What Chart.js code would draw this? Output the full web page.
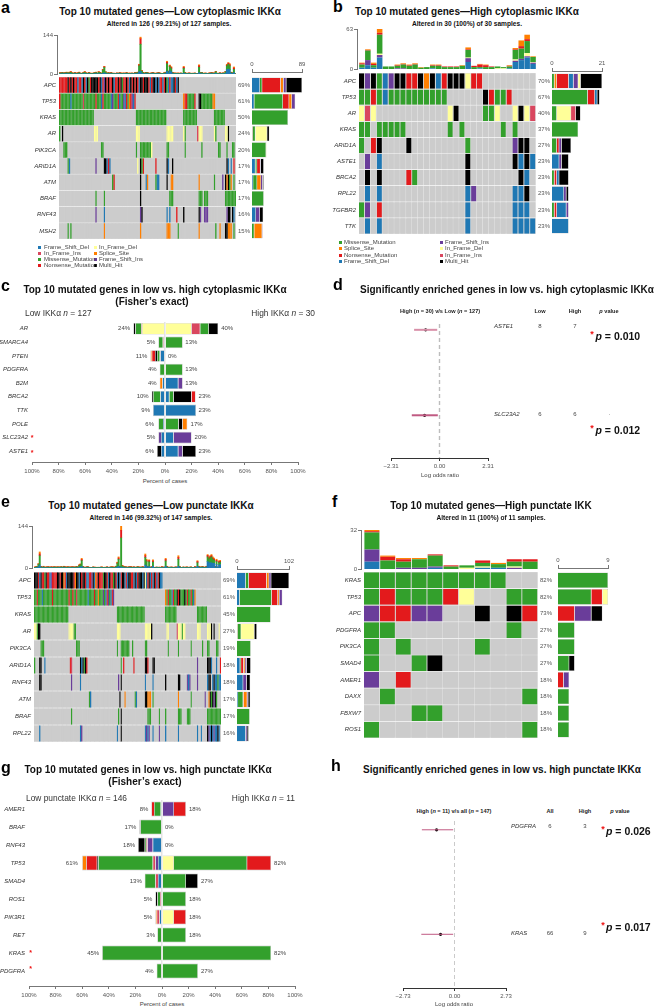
<!DOCTYPE html>
<html><head><meta charset="utf-8">
<script src="https://cdn.jsdelivr.net/npm/chart.js@4/dist/chart.umd.min.js"></script>
<style>
html,body{margin:0;padding:0;background:#fff}
#page{position:relative;width:654px;height:1008px;overflow:hidden;font-family:"Liberation Sans",Arial,sans-serif}
#page canvas{position:absolute}
.t{position:absolute;white-space:nowrap;line-height:1;z-index:5}
</style></head><body><div id="page"></div>
<script>
// ---------- classes ----------
const CLASS_NAMES = {F:"Frame_Shift_Del",I:"In_Frame_Ins",M:"Missense_Mutation",N:"Nonsense_Mutation",Y:"In_Frame_Del",S:"Splice_Site",P:"Frame_Shift_Ins",K:"Multi_Hit"};
const CLASS_COLORS = {F:"#1F78B4",I:"#D9475F",M:"#33A02C",N:"#E31A1C",Y:"#FFFF99",S:"#FF7F00",P:"#6A3D9A",K:"#000000",".":"#CCCCCC"};

// ---------- panel a ----------
const aGenes = ["APC","TP53","KRAS","AR","PIK3CA","ARID1A","ATM","BRAF","RNF43","MSH2"];
const aPct = ["69%","61%","50%","24%","20%","17%","17%","17%","16%","15%"];
const aRows = [
 "0:NNNNNNKNKNKNNFNNFKNFKMNKKKKKNKFNPKNKNNKFNNKNKMNNKNFKNKNKNFKKNKKKNFNKKFKFNNFNKMFNFFKNFK",
 "0:NM7FM8IM8NM3FNM5FPM3NFM2PFNMSNPFN 89:SNNMMMMMN 100:KKM8SS",
 "0:M25 55:M22 89:M10 111:M8",
 "0:M 2:K 25:Y3 55:Y3 77:Y5 89:YM 99:IY3 111:YM 119:YYK",
 "3:M3 30:MM 55:M 58:M8Y 77:MM 90:M 102:M 114:MM 120:M 124:MM",
 "6:MF 26:P 32:KKFNF 56:Y 58:KMN 69:N 77:KF 81:K 120:KF 123:F 125:N",
 "38:MN 58:K 62:FS 69:MFF 77:K 80:SS 100:S 111:M 117:P 119:KSKMS 125:M",
 "26:M 32:M 58:K 79:M3 100:M3 104:M3 119:M6 125:MM",
 "26:P 32:F 58:PK 77:F 79:F 84:N 89:K 100:KP 104:P3 120:PKK 124:K 125:F",
 "6:M 8:M 32:S 58:S 77:SSS 85:M 100:S 112:M 115:S 119:KKSSS 125:M"
];
const aSide = ["F14 M4 N33 S5 P5 K28","F4 M51 N11 S5 P6","M64","I1 M5 Y21 K4","M25 Y1","F6 M3 N6 P1 K5","F2 M7 S7 P3 K2","M21","F7 P7 K6","M4 S14 P1"];
const aGreen = [2,3,4,2,3,4,3,4,5,3,2,3,2,3,4,2,2,3,5,3,2,3,2,2,2,3,4,2,5,3,2,12,20,6,2,3,2,3,2,2,1,2,2,3,2,2,2,2,3,2,2,2,2,1,3,3,4,22,100,8,3,2,4,3,2,2,2,3,2,2,2,3,2,2,2,2,4,28,7,15,12,3,2,2,2,2,2,2,1,18,3,2,2,2,2,2,2,2,1,1,20,3,4,2,2,2,1,2,2,3,2,2,6,2,2,2,2,2,3,6,14,18,14,3,2,12,1];
const aBlue = [1,0,1,0,1,1,0,1,1,0,0,1,0,0,1,0,0,1,1,0,0,1,0,0,0,1,1,0,1,1,0,2,4,1,0,1,0,1,0,0,0,1,0,1,0,0,1,0,1,0,0,0,1,0,1,1,1,8,10,2,1,0,1,1,0,0,1,1,0,0,1,1,0,0,0,1,1,10,2,12,8,1,0,1,0,0,0,1,0,3,1,0,0,1,0,0,0,1,0,0,5,1,1,0,0,1,0,0,1,1,0,1,2,0,0,1,0,1,0,2,16,18,16,2,1,5,0];
const aRed = [1,1,1,1,1,1,1,1,2,1,1,1,1,1,1,1,0,1,2,1,1,1,1,0,1,1,1,1,2,1,1,2,3,1,1,1,1,1,0,1,0,1,0,1,1,1,0,1,1,0,1,1,0,1,1,1,1,4,20,2,1,1,1,1,0,1,1,1,1,0,1,1,1,0,0,1,1,5,1,3,4,1,1,0,1,1,1,0,0,4,1,0,1,1,0,0,1,0,0,1,5,1,1,0,1,0,0,1,1,1,1,1,1,0,1,1,0,1,0,1,3,4,4,1,1,5,0];
const aOrange = [1,1,0,1,1,1,0,1,1,1,1,0,1,1,1,0,1,1,1,1,0,1,1,1,0,1,1,0,1,1,1,1,1,0,1,0,1,1,1,0,1,0,1,0,1,1,1,0,1,1,1,0,1,1,1,0,1,2,6,1,1,1,0,1,1,0,1,0,1,1,0,1,1,1,0,1,1,4,1,3,3,1,1,1,0,1,0,1,1,3,1,1,0,0,1,1,0,1,1,0,4,1,0,1,1,0,1,1,0,1,1,0,1,1,0,1,1,0,1,1,3,2,4,1,1,4,1];

// ---------- panel b ----------
const bGenes = ["APC","TP53","AR","KRAS","ARID1A","ASTE1","BRCA2","RPL22","TGFBR2","TTK"];
const bPct = ["70%","67%","40%","37%","27%","23%","23%","23%","23%","23%"];
const bRows = [
 "0:KPKMFPKKNNKSKFNKKKYNN",
 "0:MMNMFM10 21:KNMMN",
 "0:YIY 15:YK 21:MMY 26:YKYI",
 "0:MM 3:M5 15:M 17:M 24:M 26:M",
 "0:M 2:NK 8:K 18:M 26:PKK",
 "1:P 3:F 18:K 26:KFKF",
 "1:K 3:K 8:NM 18:K 27:KF",
 "1:F 3:F 18:FP 26:FFK",
 "0:MP 3:N 18:F 26:FFF",
 "1:F 3:F 18:F 26:FFFF"
];
const bSide = ["M1 S1 N5 F2 P2 Y1 K9","M15 N3 F1 K1","M2 Y6 I2 K2","M11","M2 N1 P1 K4","F3 P1 K3","M1 N1 F1 K4","F5 P1 K1","M1 N1 F4 P1","F7"];
const bBlue = [2,6,2,18,0,0,0,0,0,0,0,0,1,0,0,0,0,0,11,0,1,0,0,0,0,1,11,14,18,8];
const bPurple = [0,8,0,4,0,0,1,1,0,0,0,0,0,0,0,0,0,0,6,0,0,0,0,0,0,0,2,2,2,2];
const bYellow = [0,0,0,2,0,0,0,0,0,0,0,0,0,0,0,0,0,0,1,0,0,0,0,1,1,0,2,0,5,1];
const bGreen = [5,15,4,30,4,4,4,6,5,7,2,3,4,5,3,3,3,5,12,3,2,3,3,3,2,3,15,16,19,8];
const bRed = [2,1,2,3,0,0,1,1,1,1,0,0,1,1,1,1,1,0,1,2,4,3,1,0,0,1,1,4,3,0];
const bOrange = [1,1,2,6,0,0,1,1,1,1,1,0,1,1,0,0,0,1,3,0,1,1,0,0,0,1,2,9,7,1];

// ---------- panel c ----------
const cGenes = ["AR","SMARCA4","PTEN","PDGFRA","B2M","BRCA2","TTK","POLE","SLC23A2","ASTE1"];
const cLowPct = [24,5,11,4,4,10,9,6,5,6];
const cHighPct = [40,13,0,13,13,23,23,17,20,23];
const cLowSeg = ["Y17.3 I0.5 M4.5 K1.5","F1 I0.7 M3.3","F3.5 P0.5 M2 K1.5 N2.5 S1","M4","F2 S2","F3.5 M5.5 K1","F9","F1.5 M3.5","F3 P2","F3 K3"];
const cHighSeg = ["Y20 I6.5 M6.5 K7","M13.3","","M13.3","F10 P3.3","F3.3 M3.2 K13.5 N3","F23.3","F0.5 M9.8 K3 S3.5","F6.5 P13.5","F10 P3.3 K10"];

// ---------- panel d ----------
const dGenes = ["ASTE1","SLC23A2"];
const dLow = [8,6];
const dHigh = [7,6];
const dEstimate = [-0.66,-0.71];
const dLower = [-1.21,-1.32];
const dUpper = [-0.11,-0.08];
const dTicks = [-2.31,0,2.31];

// ---------- panel e ----------
const eGenes = ["APC","TP53","KRAS","AR","PIK3CA","ARID1A","RNF43","ATM","BRAF","RPL22"];
const ePct = ["69%","61%","45%","27%","19%","18%","18%","17%","17%","16%"];
const eRows = [
 "0:KKKNFKNNMKNNFPNNNNKKNKKSNFKKKKKNSKKFKNKKNFFNNPKFSNKNNNMKKNFKNNMKNFKFNKKFNFKKNNFKFNKKKFKYFNKFNFKNFNKFF",
 "0:MMNMMMFMMMMMMMNMMMMMMMMMMMMNMMNMMIMMMMMMMMFMMMMNMMSMMMPMFNPMFNP 103:SMNMMFNMMKNKMMMKMNMMNMFS",
 "0:M27 65:M22 103:M9 128:M8",
 "0:YYMKK 27:Y4MM 65:Y3 87:Y5K 104:YY 112:IY3MYY 128:Y3 136:YYYK 141:K 145:Y",
 "5:M3 33:M3 65:M 68:M7 77:M 87:MM 105:M 113:M 123:M 132:M 136:MM 143:MM",
 "0:M 4:KK 8:F 28:NI 36:KFKMKN 68:M 70:N 78:N 87:KKN 93:KK 128:P 136:KKKF 143:F 146:N",
 "4:KK 29:P 36:F 66:P 68:K 87:F 93:F 103:K 113:KK 120:PFP 128:P 136:FKK 140:FKFFMFF",
 "43:MF 67:K 71:S 79:MF 87:KK 89:SSS 93:M 113:S 123:M 134:P 137:SKMKPKM",
 "29:M 66:M 68:K 89:M3 98:M 103:M 113:M3 120:M3 136:M11",
 "4:F 36:FP 65:F 68:K 87:FPFP 93:F 98:P 103:F 113:F 128:F 131:F 136:KPFKFPFFKF"
];
const eSide = ["F17 M6 N35 S5 P4 K35","F5 M63 N12 S3 P6","M66","I1 M7 Y26 K5","M27","F6 P3 M2 S3 N5 K8","F12 P7 K7","F2 M10 S7 P2 N1 K4","M25","F17 P3 K3"];
const eGreen = [2,2,3,8,32,3,2,3,2,2,2,3,2,2,2,3,2,2,3,2,2,3,2,4,2,2,3,2,2,3,2,2,3,3,2,6,8,20,3,2,2,2,3,2,1,1,2,2,2,1,2,1,2,2,2,1,2,2,1,2,2,3,2,2,4,12,24,4,100,5,3,3,2,2,3,2,3,2,2,2,2,3,2,2,2,3,2,26,16,3,16,2,2,14,2,1,2,2,2,1,2,2,3,18,3,2,2,2,2,1,2,2,2,24,3,2,1,2,1,2,2,1,2,2,1,2,2,2,12,3,2,2,3,2,2,3,16,12,16,20,14,10,3,10,2,8,8];
const eBlue = [0,1,1,4,10,1,0,1,0,0,1,0,0,1,0,0,1,0,0,1,0,1,0,0,1,0,0,1,0,0,1,0,0,1,0,2,3,5,1,0,0,1,0,0,0,0,1,0,0,0,0,0,1,0,0,0,0,1,0,0,1,0,0,0,1,3,6,1,3,1,1,0,1,0,0,1,0,0,1,0,0,1,0,0,1,0,0,10,6,1,5,0,1,6,0,0,1,0,0,0,1,0,0,6,1,0,0,1,0,0,0,1,0,6,1,0,0,1,0,0,1,0,0,1,0,0,1,0,6,1,0,1,1,0,0,1,22,18,18,18,16,16,1,12,1,10,12];
const eRed = [1,1,1,2,6,1,1,1,0,1,1,1,0,1,1,1,0,1,1,0,1,0,1,1,1,1,1,0,1,1,1,1,0,1,1,2,2,4,1,1,0,1,1,0,1,0,0,1,0,1,0,1,0,1,0,1,0,1,0,1,0,1,1,1,1,3,4,1,26,2,1,1,1,0,1,1,1,0,1,0,1,0,1,1,0,1,1,6,4,1,4,1,1,4,0,1,0,0,1,0,1,1,0,5,1,1,0,0,1,0,1,0,1,6,1,0,1,0,0,1,0,1,1,0,1,0,1,1,4,1,1,0,1,1,0,1,5,4,4,4,4,4,1,4,0,4,3];
const eOrange = [1,0,1,1,7,1,0,1,1,1,0,1,1,0,1,0,1,1,0,1,1,1,0,1,0,1,1,0,1,0,0,1,1,0,1,1,1,4,1,0,1,0,0,1,0,0,1,0,1,0,1,0,0,1,0,1,1,0,1,0,1,0,1,0,0,2,4,0,15,1,1,0,0,1,0,0,1,1,0,1,0,1,1,0,0,1,0,6,4,0,3,0,1,4,0,1,0,0,0,0,1,0,0,4,1,0,1,0,0,1,0,1,0,6,1,0,0,1,0,0,1,0,0,1,0,0,1,0,3,1,0,1,0,0,1,1,3,4,4,4,4,4,0,4,1,3,3];

// ---------- panel f ----------
const fGenes = ["KRAS","TP53","APC","PDGFRA","PIK3CA","SMAD4","AMER1","DAXX","FBXW7","ROS1"];
const fPct = ["82%","82%","73%","27%","27%","27%","18%","18%","18%","18%"];
const fRows = [
 "0:M9",
 "0:MNMMMNY 9:MM",
 "0:PNNPP 7:K 9:KN",
 "0:MM 9:M",
 "0:M 2:M 7:M",
 "0:M 3:MK",
 "0:P 2:N",
 "1:M 10:M",
 "3:MM",
 "0:M 10:M"
];
const fSide = ["M9","M6 N2 Y1","N3 P3 K2","M3","M3","M2 K1","N1 P1","M2","M2","M2"];
const fBlue = [6,0,0,0,1,0,0,1,1,0,0];
const fPurple = [10,0,1,1,1,0,0,0,0,1,0];
const fYellow = [0,0,0,0,0,0,1,1,0,1,0];
const fGreen = [14,7,5,7,9,2,2,3,3,4,6];
const fRed = [1,3,2,0,1,1,0,2,0,2,2];
const fOrange = [1,1,1,1,0,0,0,0,1,0,0];

// ---------- panel g ----------
const gGenes = ["AMER1","BRAF","RNF43","TP53","SMAD4","ROS1","PIK3R1","RET","KRAS","PDGFRA"];
const gLowPct = [8,17,18,61,13,5,5,3,45,4];
const gHighPct = [18,0,0,82,27,18,18,18,82,27];
const gLowSeg = ["F1 M5 N2","M16.3 K0.7","F7 P4 M1 K5 I1","F3 P2 I2 M41 K1 N8 S3","F3 M8 I2","I1.5 M2 K1.5","F2 I2 S1","M3.5","M45","M4"];
const gHighSeg = ["P9 N9","","","Y9 M55 N18","M18 K9","M18","Y9 N9","M18","M82","M27"];

// ---------- panel h ----------
const hGenes = ["PDGFRA","KRAS"];
const hAll = [6,66];
const hHigh = [3,9];
const hEstimate = [-0.95,-0.74];
const hLower = [-1.73,-1.76];
const hUpper = [-0.07,-0.07];
const hTicks = [-2.73,0,2.73];

// ---------- shared axis ticks ----------
const percentTicks = [-100,-80,-60,-40,-20,0,20,40,60,80,100];

// ---------- helpers ----------
Chart.defaults.font.family = '"Liberation Sans",Arial,sans-serif';
Chart.defaults.font.size = 6;
Chart.defaults.color = '#444';
Chart.defaults.animation = false;
Chart.defaults.responsive = false;
Chart.defaults.plugins.legend.display = false;
Chart.defaults.plugins.tooltip.enabled = false;

const page = document.getElementById('page');
function canvasAt(x,y,w,h){
  const c=document.createElement('canvas');
  c.width=Math.round(w);c.height=Math.round(h);
  c.style.left=Math.round(x)+'px';c.style.top=Math.round(y)+'px';
  c.style.width=Math.round(w)+'px';c.style.height=Math.round(h)+'px';
  page.appendChild(c);return c;
}
function text(html,x,y,o={}){
  const d=document.createElement('div');d.className='t';d.innerHTML=html;
  const tx={l:'0',c:'-50%',r:'-100%'}[o.a||'l'];
  d.style.left=x+'px';d.style.top=y+'px';d.style.transform=`translate(${tx},-50%)`;
  d.style.fontSize=(o.s||6)+'px';d.style.fontWeight=o.b?'bold':'normal';
  d.style.fontStyle=o.i?'italic':'normal';d.style.color=o.c||'#111';
  page.appendChild(d);
}
function decodeRow(str,n){
  const out=new Array(n).fill('.');
  str.split(' ').forEach(tok=>{
    const [s,body]=tok.split(':');let i=+s;
    for(const m of body.matchAll(/([A-Z])(\d*)/g)){
      const c=m[2]?+m[2]:1;
      for(let k=0;k<c;k++){if(i<n)out[i]=m[1];i++;}
    }
  });
  return out;
}
function segTable(rows,order){
  return order.map(k=>rows.map(r=>{
    const m=r.match(new RegExp('(?:^| )'+k+'([\\d.]+)'));
    return m?+m[1]:null;
  }));
}
const fitY=w=>s=>{s.width=w;s.paddingTop=0;s.paddingBottom=0;};
const fitX=h=>s=>{s.height=h;s.paddingLeft=0;s.paddingRight=0;};
function matrixChart(genes,pct,rows,n,x0,x1,top,bottom,labelW,pctW,gap,fs){
  const grid=rows.map(r=>decodeRow(r,n));
  const samples=Array.from({length:n},(_,s)=>s);
  // grey backing for the whole row, under the per-sample cells
  new Chart(canvasAt(x0,top,x1-x0,bottom-top),{
    type:'bar',
    data:{labels:genes,datasets:[{data:genes.map(()=>n),backgroundColor:CLASS_COLORS['.'],barPercentage:0.955,categoryPercentage:1}]},
    options:{indexAxis:'y',layout:{padding:0},scales:{x:{display:false,min:0,max:n},y:{display:false}}}
  });
  new Chart(canvasAt(x0-labelW,top,x1-x0+labelW+pctW,bottom-top),{
    type:'bar',
    data:{labels:genes,datasets:samples.map(s=>({
      data:genes.map(()=>1),
      backgroundColor:genes.map((g,i)=>CLASS_COLORS[grid[i][s]]),
      barPercentage:0.955,categoryPercentage:1,
      borderWidth:gap?{right:0.8}:0,borderColor:'rgba(255,255,255,.5)',borderSkipped:false
    }))},
    options:{indexAxis:'y',layout:{padding:0},scales:{
      x:{display:false,stacked:true,min:0,max:n},
      y:{stacked:true,grid:{display:false,drawTicks:false},border:{display:false},afterFit:fitY(labelW),
         ticks:{font:{style:'italic',size:fs||6},color:'#333',padding:3,autoSkip:false}},
      y2:{type:'category',labels:pct,offset:true,position:'right',grid:{display:false,drawTicks:false},border:{display:false},afterFit:fitY(pctW),
         ticks:{font:{size:fs||6},color:'#555',padding:2,autoSkip:false}}
    }}
  });
}
function sideChart(genes,seg,order,max,x0,x1,top,bottom,axisY,labelGap){
  const tab=segTable(seg,order);
  new Chart(canvasAt(x0,top,x1-x0,bottom-top),{
    type:'bar',
    data:{labels:genes,datasets:order.map((k,i)=>({data:tab[i],backgroundColor:CLASS_COLORS[k],barPercentage:0.94,categoryPercentage:1,borderWidth:0.5,borderColor:'#bbb'}))},
    options:{indexAxis:'y',layout:{padding:0},scales:{x:{display:false,stacked:true,min:0,max},y:{display:false,stacked:true}}}
  });
  const H=labelGap+6;
  new Chart(canvasAt(x0-8,axisY-H,x1-x0+16,H+1),{
    type:'scatter',data:{datasets:[]},
    options:{layout:{padding:{left:8,right:8}},scales:{
      y:{display:false,min:0,max:1},
      x:{type:'linear',position:'top',min:0,max,afterFit:fitX(H),afterBuildTicks:s=>{s.ticks=[{value:0},{value:max}]},
         border:{display:true,color:'#777'},grid:{drawOnChartArea:false,tickLength:3,color:'#777'},
         ticks:{padding:1,maxRotation:0,color:'#555',callback:v=>v}}
    }}
  });
}
function topChart(n,datasets,max,x0,x1,top,bottom,axisX,gap){
  new Chart(canvasAt(x0,top,x1-x0,bottom-top),{
    type:'bar',
    data:{labels:Array.from({length:n},(_,i)=>i+1),datasets:datasets.map(d=>({data:d[1],backgroundColor:d[0],barPercentage:gap,categoryPercentage:1}))},
    options:{layout:{padding:0},scales:{x:{display:false,stacked:true},y:{display:false,stacked:true,min:0,max}}}
  });
  const W=22;
  new Chart(canvasAt(axisX-W,top-5,W+1,bottom-top+10),{
    type:'scatter',data:{datasets:[]},
    options:{layout:{padding:{top:5,bottom:5}},scales:{
      x:{display:false,type:'linear',min:0,max:1},
      y:{min:0,max,afterFit:fitY(W),afterBuildTicks:s=>{s.ticks=[{value:0},{value:max}]},
         border:{display:true,color:'#777'},grid:{drawOnChartArea:false,tickLength:3,color:'#777'},
         ticks:{padding:1,color:'#555',callback:v=>v}}
    }}
  });
}
function butterfly(genes,lowSeg,highSeg,lowPct,highPct,x100,xEnd,top,bottom,axisY,barFrac,tickY,fs){
  const order=['F','P','Y','I','M','K','N','S'];
  const L=segTable(lowSeg,order),R=segTable(highSeg,order);
  const ds=[];
  order.forEach((k,i)=>{
    ds.push({data:L[i].map(v=>v==null?null:-v),backgroundColor:CLASS_COLORS[k],borderColor:'rgba(175,175,175,.8)',borderWidth:0.6,barPercentage:barFrac,categoryPercentage:1});
    ds.push({data:R[i],backgroundColor:CLASS_COLORS[k],borderColor:'rgba(175,175,175,.8)',borderWidth:0.6,barPercentage:barFrac,categoryPercentage:1});
  });
  const endLabels={id:'endLabels',afterDatasetsDraw(ch){
    const c=ch.ctx,xs=ch.scales.x,ys=ch.scales.y;
    c.save();c.font='6px "Liberation Sans"';c.fillStyle='#444';c.textBaseline='middle';
    genes.forEach((g,i)=>{
      const y=ys.getPixelForTick(i);
      c.textAlign='right';c.fillText(lowPct[i]+'%',xs.getPixelForValue(-lowPct[i])-3,y);
      c.textAlign='left';c.fillText(highPct[i]+'%',xs.getPixelForValue(highPct[i])+3,y);
    });
    c.restore();
  }};
  new Chart(canvasAt(0,top,xEnd,bottom-top),{
    type:'bar',data:{labels:genes,datasets:ds},plugins:[endLabels],
    options:{indexAxis:'y',layout:{padding:0},scales:{
      x:{stacked:true,min:-100,max:100,afterFit:fitX(0),afterBuildTicks:s=>{s.ticks=percentTicks.map(v=>({value:v}))},
         border:{display:false},ticks:{display:false},
         grid:{z:1,drawTicks:false,lineWidth:1.5,color:c=>c.tick&&c.tick.value===0?'rgba(205,205,205,.55)':'rgba(0,0,0,0)'}},
      y:{stacked:true,grid:{display:false,drawTicks:false},border:{display:false},afterFit:fitY(x100),
         ticks:{font:{style:'italic',size:fs||6},color:'#333',padding:4,autoSkip:false}}
    }}
  });
  new Chart(canvasAt(0,axisY-1,xEnd+12,16),{
    type:'scatter',data:{datasets:[]},
    options:{layout:{padding:{left:x100,right:12}},scales:{
      y:{display:false,min:0,max:1},
      x:{type:'linear',min:-100,max:100,afterFit:fitX(15),afterBuildTicks:s=>{s.ticks=percentTicks.map(v=>({value:v}))},
         border:{display:true,color:'#777'},grid:{drawOnChartArea:false,tickLength:3,color:'#777'},
         ticks:{padding:tickY,maxRotation:0,autoSkip:false,color:'#555',callback:v=>Math.abs(v)+'%'}}
    }}
  });
}
function forest(est,lo,hi,ticks,xa,xb,top,axisY,y0,y1,lineW,dashW,lineCol){
  const step=y1-y0,ymin=(top-y0)/step,ymax=1+(axisY-y1)/step;
  const M=ticks[2];
  const rows=[0,1];
  const ds=[
    {data:[{x:0,y:ymin},{x:0,y:ymax}],showLine:true,borderColor:'#bdbdbd',borderWidth:dashW,borderDash:[4,3],pointRadius:0},
    ...rows.map(r=>({data:[{x:lo[r],y:r},{x:hi[r],y:r}],showLine:true,borderColor:lineCol[r],borderWidth:lineW,pointRadius:0})),
    {data:rows.map(r=>({x:est[r],y:r})),pointRadius:1.6,pointBackgroundColor:'#000',pointBorderWidth:0}
  ];
  new Chart(canvasAt(xa-16,top,xb-xa+32,axisY-top+16),{
    type:'scatter',data:{datasets:ds},
    options:{layout:{padding:{left:16,right:16}},scales:{
      y:{display:false,reverse:true,min:ymin,max:ymax},
      x:{type:'linear',min:-M,max:M,afterFit:fitX(16),afterBuildTicks:s=>{s.ticks=ticks.map(v=>({value:v}))},
         border:{display:true,color:'#333',width:1},grid:{drawOnChartArea:false,tickLength:3,color:'#333'},
         ticks:{padding:2,maxRotation:0,autoSkip:false,color:'#555',callback:v=>(v<0?'\u2212':'')+Math.abs(v).toFixed(2)}}
    }}
  });
}
function legend(items,xm,xt,ys){
  items.forEach((k,i)=>{
    const d=document.createElement('div');
    d.style.cssText=`position:absolute;left:${xm-1}px;top:${ys[i]-1}px;width:2.5px;height:2.5px;background:${CLASS_COLORS[k]}`;
    page.appendChild(d);
    text(CLASS_NAMES[k],xt,ys[i],{s:6,c:'#444'});
  });
}
function star(x,y,s){text('*',x,y,{a:'c',s:s||8,b:true,c:'#ee1111'})}

// ---------- draw a ----------
text('a',1,8,{s:16,b:true,c:'#000'});
text('Top 10 mutated genes—Low cytoplasmic IKKα',170,11.5,{a:'c',s:10,b:true});
text('Altered in 126 ( 99.21%) of 127 samples.',169,24,{a:'c',s:6.6,b:true});
topChart(127,[['#1F78B4',aBlue],['#33A02C',aGreen],['#E31A1C',aRed],['#FF7F00',aOrange]],144,59,236,35,74,57,1);
matrixChart(aGenes,aPct,aRows,127,59,236,77,239,59,18,false);
sideChart(aGenes,aSide,['F','I','M','Y','N','S','P','K'],89,252,302,77,239,72,8);
legend(['F','I','M','N'],39,44,[247,253,259,265]);
legend(['Y','S','P','K'],95,99,[247,253,259,265]);

// ---------- draw b ----------
text('b',333,7,{s:16,b:true,c:'#000'});
text('Top 10 mutated genes—High cytoplasmic IKKα',467,11.5,{a:'c',s:10,b:true});
text('Altered in 30 (100%) of 30 samples.',467,24,{a:'c',s:6.6,b:true});
topChart(30,[['#1F78B4',bBlue],['#6A3D9A',bPurple],['#FFFF99',bYellow],['#33A02C',bGreen],['#E31A1C',bRed],['#FF7F00',bOrange]],63,359,536,29,69,357,0.94);
matrixChart(bGenes,bPct,bRows,30,359,536,73,234,60,16,true);
sideChart(bGenes,bSide,['M','S','N','F','P','Y','I','K'],21,552,602,73,234,71,8);
legend(['M','S','N','F'],340,344,[242,248,255,261]);
legend(['P','Y','I','K'],441,445,[242,248,255,261]);

// ---------- draw c ----------
text('c',1,286,{s:16,b:true,c:'#000'});
text('Top 10 mutated genes in low vs. high cytoplasmic IKKα',155,289.5,{a:'c',s:10,b:true});
text('(Fisher’s exact)',152,302,{a:'c',s:10,b:true});
text('Low IKKα <i>n</i> = 127',25,313,{s:8.4,c:'#333'});
text('High IKKα <i>n</i> = 30',315,313,{a:'r',s:8.4,c:'#333'});
butterfly(cGenes,cLowSeg,cHighSeg,cLowPct,cHighPct,32,298,322,458,462,0.85,3);
text('Percent of cases',165,481,{a:'c',s:6,c:'#444'});
star(32,436.5,7);star(32,452,7);

// ---------- draw d ----------
text('d',333,285,{s:16,b:true,c:'#000'});
text('Significantly enriched genes in low vs. high cytoplasmic IKKα',507,290,{a:'c',s:10,b:true});
text('High (<i>n</i> = 30) v/s Low (<i>n</i> = 127)',440,312,{a:'c',s:5.6,b:true,c:'#222'});
text('Low',540,312,{a:'c',s:5.6,b:true,c:'#222'});
text('High',575,312,{a:'c',s:5.6,b:true,c:'#222'});
text('<i>p</i> value',609,312,{a:'c',s:5.6,b:true,c:'#222'});
forest(dEstimate,dLower,dUpper,dTicks,391,488,320,458,326,414,2,1.4,['#d88fa8','#c05a82']);
dGenes.forEach((g,i)=>{
  const y=[326,414][i];
  text(g,494,y,{s:6,i:true,c:'#333'});
  text(String(dLow[i]),540,y,{a:'c',s:6,c:'#444'});
  text(String(dHigh[i]),575,y,{a:'c',s:6,c:'#444'});
});
text('.',609.5,413,{a:'c',s:6,c:'#444'});
text('Log odds ratio',440,475,{a:'c',s:6,c:'#444'});
text('<i>p</i> = 0.010',595.5,336,{s:10.5,b:true});star(592,334,9);
text('<i>p</i> = 0.012',595.5,430,{s:10.5,b:true});star(592,428,9);

// ---------- draw e ----------
text('e',1,502,{s:16,b:true,c:'#000'});
text('Top 10 mutated genes—Low punctate IKKα',151,506,{a:'c',s:10,b:true});
text('Altered in 146 (99.32%) of 147 samples.',151,518,{a:'c',s:6.6,b:true});
topChart(147,[['#1F78B4',eBlue],['#33A02C',eGreen],['#E31A1C',eRed],['#FF7F00',eOrange]],144,34,221,526,568,32,1);
matrixChart(eGenes,ePct,eRows,147,34,221,572,742,34,18,false);
sideChart(eGenes,eSide,['F','I','M','Y','N','S','P','K'],102,237,289,572,742,569,7);

// ---------- draw f ----------
text('f',332,502,{s:16,b:true,c:'#000'});
text('Top 10 mutated genes—High punctate IKK',491,506,{a:'c',s:10,b:true});
text('Altered in 11 (100%) of 11 samples.',491,518,{a:'c',s:6.6,b:true});
topChart(11,[['#1F78B4',fBlue],['#6A3D9A',fPurple],['#FFFF99',fYellow],['#33A02C',fGreen],['#E31A1C',fRed],['#FF7F00',fOrange]],32,364,538,530,569,361,0.95);
matrixChart(fGenes,fPct,fRows,11,364,538,572,738,64,20,true);
sideChart(fGenes,fSide,['M','N','P','Y','K'],9,558,608,572,738,568,7);

// ---------- draw g ----------
text('g',1,768,{s:16,b:true,c:'#000'});
text('Top 10 mutated genes in low vs. high punctate IKKα',148,770,{a:'c',s:10,b:true});
text('(Fisher’s exact)',145,782,{a:'c',s:10,b:true});
text('Low punctate IKKα <i>n</i> = 146',26,797.5,{s:8.4,c:'#333'});
text('High IKKα <i>n</i> = 11',295,797.5,{a:'r',s:8.4,c:'#333'});
butterfly(gGenes,gLowSeg,gHighSeg,gLowPct,gHighPct,29,295,800,980,986,0.82,3);
text('Percent of cases',162,1004,{a:'c',s:6,c:'#444'});
star(30.5,952,7);star(30.5,968,7);

// ---------- draw h ----------
text('h',331,766,{s:16,b:true,c:'#000'});
text('Significantly enriched genes in low vs. high punctate IKKα',502,770,{a:'c',s:10,b:true});
text('High (<i>n</i> = 11) v/s all (<i>n</i> = 147)',454,811.5,{a:'c',s:5.6,b:true,c:'#222'});
text('All',550,811.5,{a:'c',s:5.6,b:true,c:'#222'});
text('High',585,811.5,{a:'c',s:5.6,b:true,c:'#222'});
text('<i>p</i> value',620,811.5,{a:'c',s:5.6,b:true,c:'#222'});
forest(hEstimate,hLower,hUpper,hTicks,403,506,817,988,826,933,1,0.8,['#c05a82','#c05a82']);
hGenes.forEach((g,i)=>{
  const y=[826,933][i];
  text(g,511,y,{s:6,i:true,c:'#333'});
  text(String(hAll[i]),550,y,{a:'c',s:6,c:'#444'});
  text(String(hHigh[i]),585,y,{a:'c',s:6,c:'#444'});
});
text('Log odds ratio',454,1004,{a:'c',s:6,c:'#444'});
text('<i>p</i> = 0.026',606,831,{s:10.5,b:true});star(603,829,9);
text('<i>p</i> = 0.017',606,927,{s:10.5,b:true});star(603,925,9);
</script></body></html>
